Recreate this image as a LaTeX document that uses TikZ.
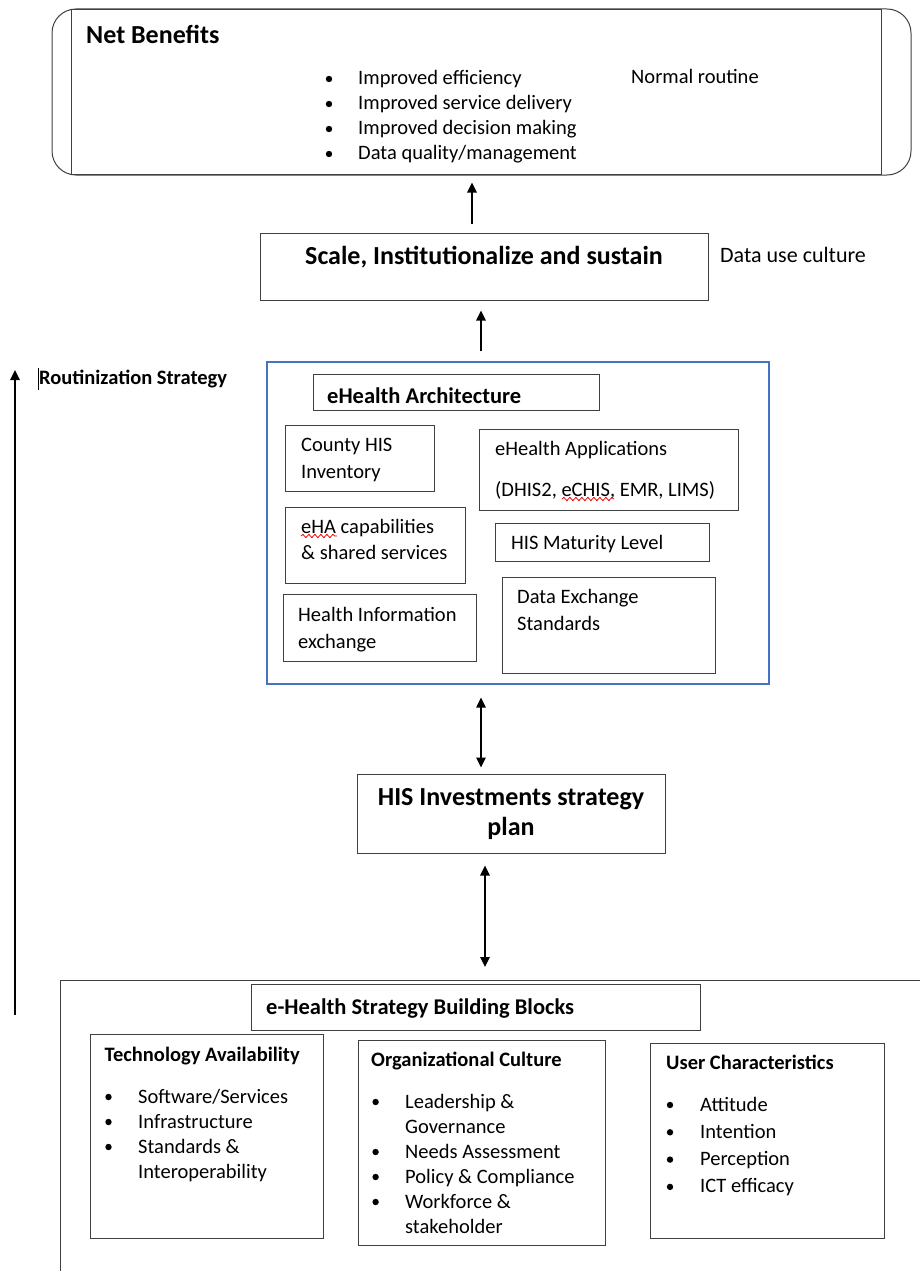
\documentclass[tikz,border=0pt]{standalone}
\usepackage{fontspec}
\setmainfont{Carlito}
\usetikzlibrary{arrows.meta,decorations.pathmorphing}
\definecolor{wordblue}{RGB}{68,114,196}

\begin{document}
\begin{tikzpicture}[x=1pt, y=-1pt,
    box/.style={draw=black!75, line width=1pt, inner sep=0pt},
    txt/.style={anchor=base west, inner sep=0pt, font=\fontsize{20.5}{24}\selectfont},
    sub/.style={txt, font=\fontsize{20.5}{24}\selectfont\bfseries},
    hd/.style={anchor=base, inner sep=0pt, font=\fontsize{26}{30}\selectfont\bfseries},
    arr/.style={line width=1.5pt, -{Triangle[length=10pt,width=9.5pt]}},
    darr/.style={line width=1.5pt, {Triangle[length=10pt,width=9.5pt]}-{Triangle[length=10pt,width=9.5pt]}},
    wavy/.style={red!90!black, line width=0.8pt, decorate, decoration={snake, amplitude=1.6pt, segment length=6pt}}]

    \useasboundingbox (0,0) rectangle (920,1271);

    % Net Benefits
    \node[box, rounded corners=24pt, minimum width=859pt, minimum height=166pt] (net) at (481.5,92) {};
    \node[box, minimum width=810pt, minimum height=164pt] (netin) at (476,92) {};
    \node[txt, font=\fontsize{26}{30}\selectfont\bfseries] (nettl) at (86,44) {Net Benefits};
    \foreach \t [count=\i from 0] in {Improved efficiency, Improved service delivery, Improved decision making, Data quality/management} {
        \fill (329,79+25*\i) circle (3.2pt);
        \node[txt] (nb\i) at (358,85+25*\i) {\t};
    }
    \node[txt] (norm) at (631,84) {Normal routine};

    % Scale
    \node[box, minimum width=448pt, minimum height=67pt] (scale) at (484,266.5) {};
    \node[hd] (scaletx) at (484,264) {Scale, Institutionalize and sustain};
    \node[txt, font=\fontsize{22}{26}\selectfont] (culture) at (720,262) {Data use culture};

    % Routinization
    \coordinate (rs0) at (15,1015);
    \coordinate (rs1) at (15,370);
    \draw[arr] (rs0) -- (rs1);
    \node[sub] (rstx) at (39,384) {Routinization Strategy};
    \draw[line width=0.8pt] (38,368) -- (38,390);

    % eHealth Architecture
    \node[box, draw=wordblue, line width=1.3pt, minimum width=502pt, minimum height=322pt] (arch) at (518,523) {};
    \node[box, minimum width=286pt, minimum height=36pt] (archtl) at (456,392) {};
    \node[txt, font=\fontsize{22.5}{26}\selectfont\bfseries] (archtx) at (327,403) {eHealth Architecture};

    \node[box, minimum width=149pt, minimum height=66pt] (county) at (359.5,458) {};
    \node[txt] (county1) at (301,451) {County HIS};
    \node[txt] (county2) at (301,478) {Inventory};

    \node[box, minimum width=259pt, minimum height=81pt] (apps) at (608.5,469.5) {};
    \node[txt] (apps1) at (495,455) {eHealth Applications};
    \node[txt] (apps2) at (495,496) {(DHIS2, eCHIS, EMR, LIMS)};
    \draw[wavy] (562,499) -- (614,499);

    \node[box, minimum width=180pt, minimum height=76pt] (cap) at (375,545) {};
    \node[txt] (cap1) at (301,533) {eHA capabilities};
    \node[txt] (cap2) at (301,559) {\& shared services};
    \draw[wavy] (301,536) -- (337,536);

    \node[box, minimum width=214pt, minimum height=38pt] (mat) at (602,542) {};
    \node[txt] (mat1) at (511,549) {HIS Maturity Level};

    \node[box, minimum width=193pt, minimum height=67pt] (hie) at (379.5,627.5) {};
    \node[txt] (hie1) at (298,621) {Health Information};
    \node[txt] (hie2) at (298,648) {exchange};

    \node[box, minimum width=213pt, minimum height=96pt] (dex) at (608.5,625) {};
    \node[txt] (dex1) at (517,603) {Data Exchange};
    \node[txt] (dex2) at (517,630) {Standards};

    % HIS investments
    \node[box, minimum width=308pt, minimum height=79pt] (plan) at (511,813.5) {};
    \node[hd] (plan1) at (511,805) {HIS Investments strategy};
    \node[hd] (plan2) at (511,835) {plan};

    % Building blocks
    \coordinate (blk) at (485,980);
    \draw[black!75, line width=1pt] (920,980) -- (60,980) -- (60,1271);
    \node[box, minimum width=449pt, minimum height=46pt] (sbb) at (475.5,1007) {};
    \node[txt, font=\fontsize{22.5}{26}\selectfont\bfseries] (sbbtx) at (266,1014) {e-Health Strategy Building Blocks};

    \node[box, minimum width=232.5pt, minimum height=204pt] (tech) at (206.75,1136) {};
    \node[sub] (techtl) at (104.5,1061) {Technology Availability};
    \foreach \t [count=\i from 0] in {Software/Services, Infrastructure, Standards \&, Interoperability}
        \node[txt] (tech\i) at (138,1103+25*\i) {\t};
    \foreach \i in {0,1,2} \fill (108.5,1097+25*\i) circle (3.2pt);

    \node[box, minimum width=247pt, minimum height=205pt] (org) at (481.5,1142.5) {};
    \node[sub] (orgtl) at (371,1066) {Organizational Culture};
    \foreach \t [count=\i from 0] in {Leadership \&, Governance, Needs Assessment, Policy \& Compliance, Workforce \&, stakeholder}
        \node[txt] (org\i) at (405,1108+25*\i) {\t};
    \foreach \i in {0,2,3,4} \fill (375.6,1102+25*\i) circle (3.2pt);

    \node[box, minimum width=234pt, minimum height=195pt] (user) at (767.5,1140.5) {};
    \node[sub] (usertl) at (666,1069) {User Characteristics};
    \foreach \t [count=\i from 0] in {Attitude, Intention, Perception, ICT efficacy} {
        \fill (670,1105+27.3*\i) circle (3.2pt);
        \node[txt] (user\i) at (700,1111+27.3*\i) {\t};
    }

    % Pfeile
    \draw[arr, shorten <=9pt, shorten >=7pt] ([xshift=-12pt]scale.north) -- ([xshift=-9.5pt]net.south);
    \draw[arr, shorten <=10pt, shorten >=10pt] ([xshift=-37pt]arch.north) -- ([xshift=-3pt]scale.south);
    \draw[darr, shorten <=13pt, shorten >=6pt] ([xshift=-37pt]arch.south) -- ([xshift=-30pt]plan.north);
    \draw[darr, shorten <=12pt, shorten >=13pt] ([xshift=-26pt]plan.south) -- (blk);
\end{tikzpicture}
\end{document}
